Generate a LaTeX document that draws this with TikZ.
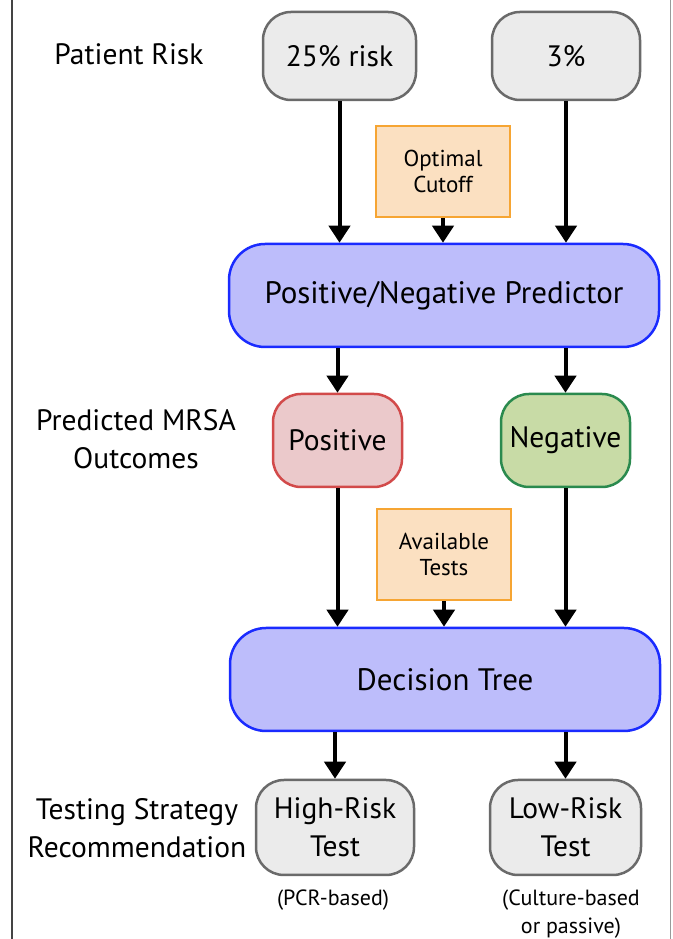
\documentclass[tikz,border=0pt]{standalone}
\usepackage{fontspec}
\setmainfont{PT Sans}
\usetikzlibrary{arrows.meta}
\definecolor{gfill}{HTML}{EBEBEB}
\definecolor{gdraw}{HTML}{6A6A6A}
\definecolor{bfill}{HTML}{BDBDFB}
\definecolor{bdraw}{HTML}{1A2BFF}
\definecolor{ofill}{HTML}{FBE0C1}
\definecolor{odraw}{HTML}{F6A533}
\definecolor{pfill}{HTML}{EBC9CB}
\definecolor{pdraw}{HTML}{D24A4A}
\definecolor{nfill}{HTML}{C8DBA6}
\definecolor{ndraw}{HTML}{2A8A4E}
\definecolor{leftln}{HTML}{444444}
\definecolor{rightln}{HTML}{9A9A9A}
\begin{document}
\begin{tikzpicture}[x=1pt,y=1pt,
  bigtext/.style={font=\fontsize{29.5}{38}\selectfont, align=center},
  smalltext/.style={font=\fontsize{23}{26}\selectfont, align=center},
  tinytext/.style={font=\fontsize{22}{28}\selectfont, align=center},
  greybox/.style={bigtext, draw=gdraw, fill=gfill, line width=2.5pt, rounded corners=28pt, inner sep=0pt},
  bluebox/.style={font=\fontsize{31}{38}\selectfont, align=center, draw=bdraw, fill=bfill, line width=2.5pt, rounded corners=36pt, inner sep=0pt, minimum width=430pt, minimum height=103pt},
  peachbox/.style={smalltext, draw=odraw, fill=ofill, line width=2.5pt, inner sep=0pt, minimum width=134pt, minimum height=91pt},
  posbox/.style={bigtext, draw=pdraw, fill=pfill, line width=2.5pt, rounded corners=28pt, inner sep=0pt, minimum width=129pt, minimum height=93pt},
  negbox/.style={bigtext, draw=ndraw, fill=nfill, line width=2.5pt, rounded corners=28pt, inner sep=0pt, minimum width=129pt, minimum height=93pt},
  arr/.style={line width=4pt, -{Triangle[width=21pt,length=17pt]}}
]
\useasboundingbox (0,0) rectangle (672,939);
\draw[leftln, line width=2.5pt] (12,0) -- (12,939);
\draw[rightln, line width=1pt] (670,0) -- (670,939);

% row labels
\node[bigtext] (lrisk) at (129,885) {Patient Risk};
\node[bigtext] (lout) at (136,500) {Predicted MRSA\\Outcomes};
\node[bigtext] (lstrat) at (137,111) {Testing Strategy\\Recommendation};

% top boxes
\node[greybox, minimum width=153pt, minimum height=88pt] (r25) at (339.5,883) {25\% risk};
\node[greybox, minimum width=148pt, minimum height=88pt] (r3) at (566,883) {3\%};
\node[peachbox] (cut) at (443,767.5) {Optimal\\Cutoff};
\node[bluebox] (pred) at (444,643.5) {Positive/Negative Predictor};

\node[posbox] (pos) at (337.5,498.5) {Positive};
\node[negbox] (neg) at (565.5,498.5) {Negative};
\node[peachbox] (avail) at (444,384.5) {Available\\Tests};
\node[bluebox] (dt) at (445,259.5) {Decision Tree};

\node[greybox, minimum width=158pt, minimum height=95pt] (hr) at (335,111.5) {High-Risk\\Test};
\node[greybox, minimum width=151pt, minimum height=95pt] (lr) at (565.5,111.5) {Low-Risk\\Test};

\node[tinytext] (pcr) at (333,39) {(PCR-based)};
\node[tinytext] (cult) at (571,25) {(Culture-based\\or passive)};

% connectors
\draw[arr] (r25.south) -- (r25.south |- pred.north);
\draw[arr] (r3.south) -- (r3.south |- pred.north);
\draw[arr] (cut.south) -- (cut.south |- pred.north);
\draw[arr] (pos.north |- pred.south) -- (pos.north);
\draw[arr] (neg.north |- pred.south) -- (neg.north);
\draw[arr] (pos.south) -- (pos.south |- dt.north);
\draw[arr] (neg.south) -- (neg.south |- dt.north);
\draw[arr] (avail.south) -- (avail.south |- dt.north);
\draw[arr] (hr.north |- dt.south) -- (hr.north);
\draw[arr] (lr.north |- dt.south) -- (lr.north);
\end{tikzpicture}
\end{document}
